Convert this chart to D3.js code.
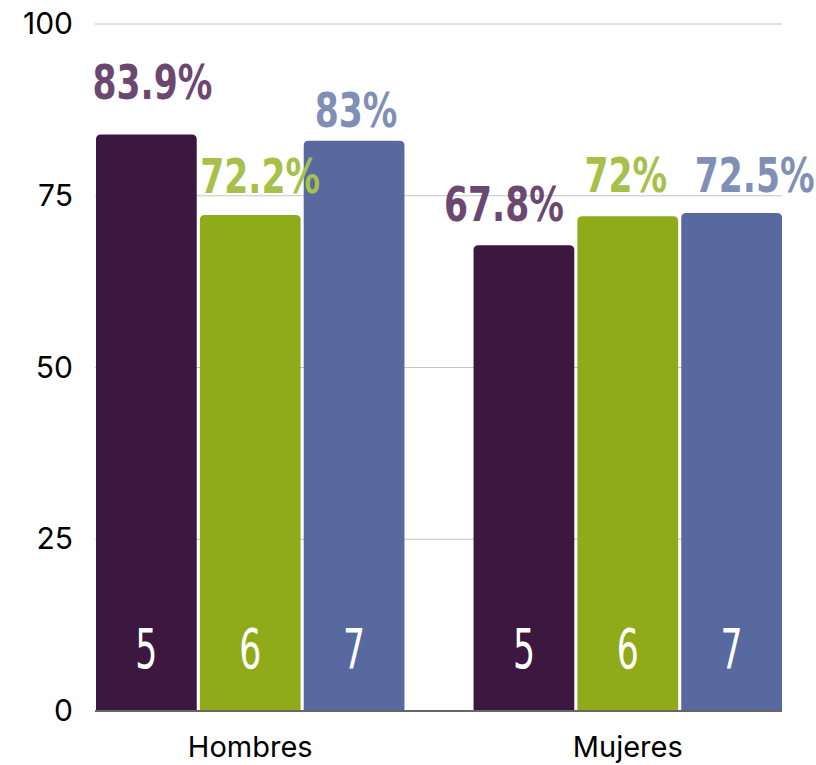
<!DOCTYPE html>
<html lang="es">
<head>
<meta charset="UTF-8" />
<title>d3</title>
<script src="https://cdn.jsdelivr.net/npm/d3@7"></script>
<style>
  body { margin: 0; background: #fff; }
</style>
</head>
<body>
<svg id="svg"></svg>
<script>
  const groups = ["Hombres", "Mujeres"];
  const series = ["5", "6", "7"];
  const values = {
    "5": [83.9, 67.8],
    "6": [72.2, 72],
    "7": [83, 72.5],
  };
  const yTicks = [0, 25, 50, 75, 100];

  const barColors = { "5": "#3c1740", "6": "#8fab19", "7": "#57699e" };
  const labelColors = { "5": "#6b4870", "6": "#a6c04a", "7": "#7f8fb5" };
  // label nudges [dx, gap above bar] as placed in the original
  const labelNudge = {
    "Hombres5": [6, 36], "Hombres6": [10, 22], "Hombres7": [2, 14],
    "Mujeres5": [-20, 24], "Mujeres6": [-2, 24], "Mujeres7": [23, 21],
  };

  const width = 816;
  const height = 765;
  const margin = { top: 24, right: 34, bottom: 54, left: 95 };
  const innerWidth = width - margin.left - margin.right;
  const innerHeight = height - margin.top - margin.bottom;

  const svg = d3.select("#svg").attr("width", width).attr("height", height);
  const g = svg.append("g")
    .attr("transform", `translate(${margin.left}, ${margin.top})`);

  const x0 = d3.scaleBand().domain(groups).range([1, innerWidth]).paddingInner(0.183).paddingOuter(0);
  const x1 = d3.scaleBand().domain(series).range([0, x0.bandwidth()]).paddingInner(0.03);
  const y = d3.scaleLinear().domain([0, 100]).range([innerHeight, 0]);

  // grid lines
  g.selectAll(".grid")
    .data(yTicks.filter(d => d > 0))
    .join("line")
    .attr("x1", 0).attr("x2", innerWidth)
    .attr("y1", d => y(d)).attr("y2", d => y(d))
    .attr("stroke", "#c4c4c4").attr("stroke-width", 1);

  // y tick labels
  const yAxis = d3.axisLeft(y).tickValues(yTicks).tickSize(0).tickPadding(22);
  const ya = g.append("g").call(yAxis);
  ya.select(".domain").remove();
  ya.selectAll(".tick text")
    .attr("font-family", "Inter, Roboto, sans-serif")
    .attr("font-size", 30)
    .attr("fill", "#000");

  const rows = [];
  groups.forEach((grp, i) => {
    series.forEach(s => rows.push({ grp, s, v: values[s][i] }));
  });

  const cx = d => x0(d.grp) + x1(d.s) + x1.bandwidth() / 2;

  // bars with rounded tops
  const r = 5;
  g.selectAll(".bar")
    .data(rows)
    .join("path")
    .attr("fill", d => barColors[d.s])
    .attr("d", d => {
      const bx = x0(d.grp) + x1(d.s);
      const bw = x1.bandwidth();
      const top = y(d.v);
      const bottom = y(0);
      return `M${bx},${bottom} V${top + r} Q${bx},${top} ${bx + r},${top} H${bx + bw - r} Q${bx + bw},${top} ${bx + bw},${top + r} V${bottom} Z`;
    });

  // value labels (condensed by scaling)
  g.selectAll(".val")
    .data(rows)
    .join("g")
    .attr("transform", d => {
      const [dx, gap] = labelNudge[d.grp + d.s];
      return `translate(${cx(d) + dx}, ${y(d.v) - gap}) scale(0.72, 1)`;
    })
    .append("text")
    .attr("text-anchor", "middle")
    .attr("font-family", "'DejaVu Sans', sans-serif")
    .attr("font-weight", "bold")
    .attr("font-size", 48)
    .attr("fill", d => labelColors[d.s])
    .text(d => d.v + "%");

  // series labels inside bars
  g.selectAll(".ser")
    .data(rows)
    .join("g")
    .attr("transform", d => `translate(${cx(d)}, ${y(0) - 43}) scale(0.62, 1)`)
    .append("text")
    .attr("text-anchor", "middle")
    .attr("font-family", "'DejaVu Sans', sans-serif")
    .attr("font-size", 56)
    .attr("fill", "#fff")
    .text(d => d.s);

  // x axis
  const xAxis = d3.axisBottom(x0).tickSize(0).tickPadding(25);
  const xa = g.append("g").attr("transform", `translate(0, ${innerHeight})`).call(xAxis);
  xa.select(".domain").attr("d", `M0,0H${innerWidth}`).attr("stroke", "#666").attr("stroke-width", 2);
  xa.selectAll(".tick text")
    .attr("font-family", "Inter, Roboto, sans-serif")
    .attr("font-size", 29)
    .attr("fill", "#000");
</script>
</body>
</html>
